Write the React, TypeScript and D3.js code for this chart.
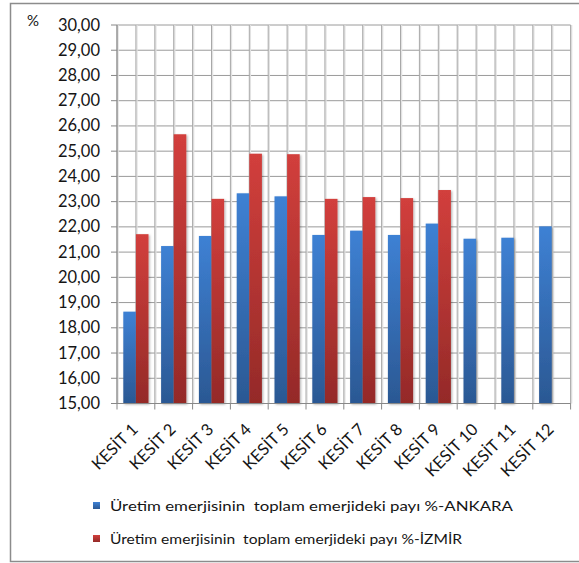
import React from "react";
import * as d3 from "d3";

const categories = ["KESİT 1","KESİT 2","KESİT 3","KESİT 4","KESİT 5","KESİT 6","KESİT 7","KESİT 8","KESİT 9","KESİT 10","KESİT 11","KESİT 12"];
const ankara = [18.64, 21.24, 21.64, 23.33, 23.21, 21.68, 21.85, 21.68, 22.13, 21.53, 21.57, 22.02];
const izmir: (number | null)[] = [21.71, 25.67, 23.11, 24.90, 24.88, 23.11, 23.18, 23.14, 23.46, null, null, null];
const yTicks = [15,16,17,18,19,20,21,22,23,24,25,26,27,28,29,30];
const seriesNames = [
  "Üretim emerjisinin  toplam emerjideki payı %-ANKARA",
  "Üretim emerjisinin  toplam emerjideki payı %-İZMİR",
];

const W = 579, H = 563;
const left = 117, right = 570.6, top = 25, bottom = 403.5;
const FONT = "Lato, 'Open Sans', sans-serif";

export default function App() {
  const x = d3.scaleBand<string>().domain(categories).range([left, right]).paddingInner(0).paddingOuter(0);
  const y = d3.scaleLinear().domain([15, 30]).range([bottom, top]);
  const bw = x.bandwidth() / 3;
  const halfLines = d3.range(0, categories.length * 2 + 1).map(i => left + (i * x.bandwidth()) / 2);

  return (
    <svg width={W} height={H} style={{ position: "absolute", left: 0, top: 0, background: "#fff" }}>
      <defs>
        <linearGradient id="gBlue" x1="0" y1="0" x2="0" y2="1">
          <stop offset="0" stopColor="#3e81d4" />
          <stop offset="1" stopColor="#2b5893" />
        </linearGradient>
        <linearGradient id="gRed" x1="0" y1="0" x2="0" y2="1">
          <stop offset="0" stopColor="#d23f3c" />
          <stop offset="1" stopColor="#942a28" />
        </linearGradient>
        <filter id="sh" x="-30%" y="-10%" width="160%" height="130%">
          <feDropShadow dx="1.2" dy="1" stdDeviation="0.9" floodColor="#000" floodOpacity="0.3" />
        </filter>
      </defs>
      <rect x={10.5} y={3.5} width={W} height={558} fill="#fff" stroke="#8c8c8c" strokeWidth={1.5} />

      {/* horizontal grid */}
      {yTicks.map(t => (
        <line key={"h" + t} x1={left} x2={right} y1={y(t)} y2={y(t)} stroke="#9a9a9a" strokeWidth={1} />
      ))}
      {/* vertical grid */}
      {halfLines.map((lx, i) => (
        <g key={"v" + i}>
          <line x1={lx + 1} x2={lx + 1} y1={top} y2={bottom} stroke="#e2e2e2" strokeWidth={1.5} />
          <line x1={lx} x2={lx} y1={top} y2={bottom} stroke="#a8a8a8" strokeWidth={1} />
        </g>
      ))}

      {/* bars */}
      {categories.map((c, i) => {
        const x0 = (x(c) as number) + bw / 2;
        const a = ankara[i];
        const z = izmir[i];
        return (
          <g key={c} filter="url(#sh)">
            <rect x={x0} y={y(a)} width={bw} height={bottom - y(a)} fill="url(#gBlue)" />
            {z != null && (
              <rect x={x0 + bw} y={y(z)} width={bw} height={bottom - y(z)} fill="url(#gRed)" />
            )}
          </g>
        );
      })}

      {/* axes */}
      <line x1={left} x2={left} y1={top} y2={bottom + 6} stroke="#888" strokeWidth={1} />
      <line x1={left} x2={right} y1={bottom} y2={bottom} stroke="#888" strokeWidth={1} />
      {yTicks.map(t => (
        <g key={"yt" + t}>
          <line x1={left - 6} x2={left} y1={y(t)} y2={y(t)} stroke="#888" />
          <text x={100} y={y(t) + 5.5} textAnchor="end" fontFamily={FONT} fontSize={16.5} fill="#151515">
            {d3.format(".2f")(t).replace(".", ",")}
          </text>
        </g>
      ))}
      {categories.map(c => {
        const bx = (x(c) as number) + x.bandwidth();
        return <line key={"xt" + c} x1={bx} x2={bx} y1={bottom} y2={bottom + 6} stroke="#888" />;
      })}
      {categories.map(c => {
        const cx = (x(c) as number) + x.bandwidth() / 2;
        return (
          <text key={"xl" + c} transform={`translate(${cx + 3},${bottom + 27}) rotate(-45)`} textAnchor="end"
            fontFamily={FONT} fontSize={16.5} fill="#151515">
            {c}
          </text>
        );
      })}
      <text x={27} y={26} fontFamily={FONT} fontSize={15} fill="#151515">%</text>

      {/* legend */}
      <rect x={93} y={502} width={7} height={7} fill="url(#gBlue)" />
      <text x={110} y={510.5} fontFamily={FONT} fontSize={14} fill="#151515" textLength={403} lengthAdjust="spacingAndGlyphs" style={{ whiteSpace: "pre" }}>{seriesNames[0]}</text>
      <rect x={93} y={535} width={7} height={7} fill="url(#gRed)" />
      <text x={110} y={543.5} fontFamily={FONT} fontSize={14} fill="#151515" textLength={352} lengthAdjust="spacingAndGlyphs" style={{ whiteSpace: "pre" }}>{seriesNames[1]}</text>
    </svg>
  );
}
